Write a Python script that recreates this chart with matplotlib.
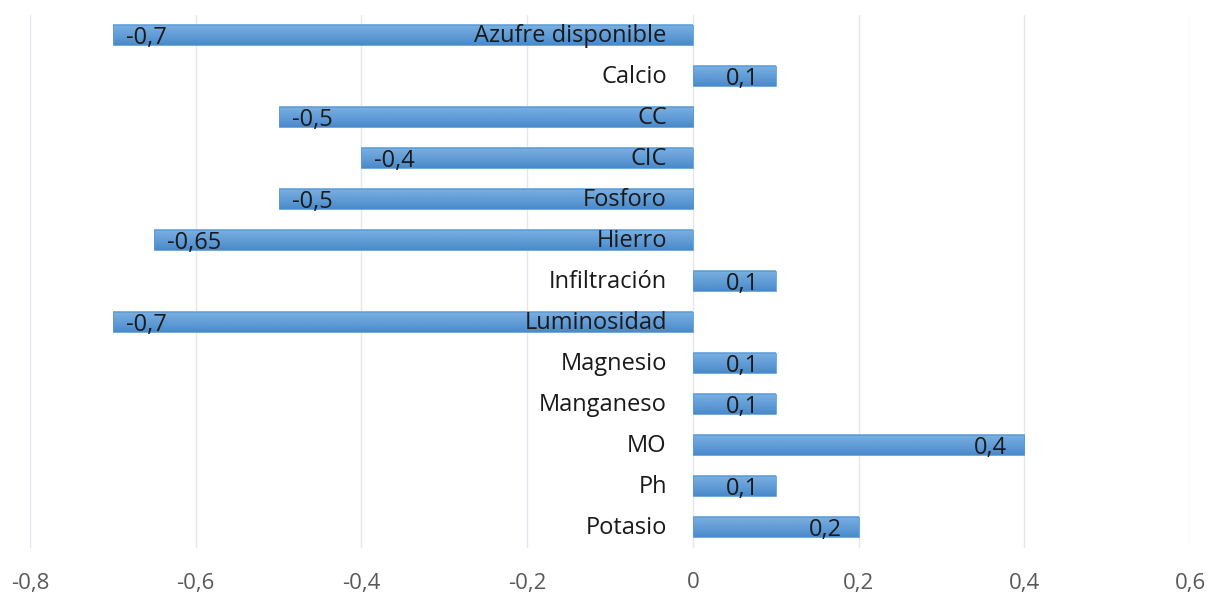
import matplotlib
matplotlib.use("Agg")
import matplotlib.pyplot as plt
import numpy as np

categorias = ["Azufre disponible", "Calcio", "CC", "CIC", "Fosforo", "Hierro",
              "Infiltración", "Luminosidad", "Magnesio", "Manganeso", "MO", "Ph",
              "Potasio"]
valores = [-0.7, 0.1, -0.5, -0.4, -0.5, -0.65, 0.1, -0.7, 0.1, 0.1, 0.4, 0.1, 0.2]
etiquetas = ["-0,7", "0,1", "-0,5", "-0,4", "-0,5", "-0,65", "0,1", "-0,7", "0,1",
             "0,1", "0,4", "0,1", "0,2"]
xticks = [-0.8, -0.6, -0.4, -0.2, 0, 0.2, 0.4, 0.6]
xtick_labels = ["-0,8", "-0,6", "-0,4", "-0,2", "0", "0,2", "0,4", "0,6"]

plt.rcParams["font.family"] = ["Open Sans", "DejaVu Sans"]

fig = plt.figure(figsize=(12.08, 5.95), dpi=100)
ax = fig.add_axes([30 / 1208, 47.5 / 595, 1160 / 1208, 533 / 595])

n = len(categorias)
ypos = np.arange(n)
alto = 0.5

# gradient fill for each bar (light top, darker bottom)
grad = np.linspace(0, 1, 50).reshape(-1, 1)
cmap = matplotlib.colors.LinearSegmentedColormap.from_list(
    "barra", ["#4a8acb", "#7db2e3"])
for y, v in zip(ypos, valores):
    x0, x1 = min(0, v), max(0, v)
    ax.imshow(grad, cmap=cmap, aspect="auto", origin="lower",
              extent=[x0, x1, y + alto / 2, y - alto / 2], zorder=2,
              interpolation="bilinear")
    ax.add_patch(plt.Rectangle((x0, y - alto / 2), x1 - x0, alto,
                               fill=False, edgecolor="#5b9bd5", lw=0.6, zorder=3))

# data labels (inside end)
for y, v, t in zip(ypos, valores, etiquetas):
    if v < 0:
        ax.annotate(t, (v, y), xytext=(13, -3), textcoords="offset pixels",
                    ha="left", va="center", fontsize=17, color="#1a1a1a", zorder=5)
    else:
        ax.annotate(t, (v, y), xytext=(-17, -3), textcoords="offset pixels",
                    ha="right", va="center", fontsize=17, color="#1a1a1a", zorder=5)

# category labels next to the zero axis
for y, c in zip(ypos, categorias):
    ax.annotate(c, (0, y), xytext=(-26, -1), textcoords="offset pixels",
                ha="right", va="center", fontsize=17, color="#1a1a1a", zorder=5)

ax.set_xlim(-0.8, 0.6)
ax.set_ylim(n - 0.5, -0.5)
ax.set_xticks(xticks)
ax.set_xticklabels(xtick_labels, fontsize=16, color="#595959")
ax.set_yticks([])
ax.tick_params(axis="x", length=0, pad=18)
ax.grid(axis="x", color="#e4e8ee", lw=1, zorder=0)
for s in ax.spines.values():
    s.set_visible(False)

fig.savefig("out.png", dpi=100)
